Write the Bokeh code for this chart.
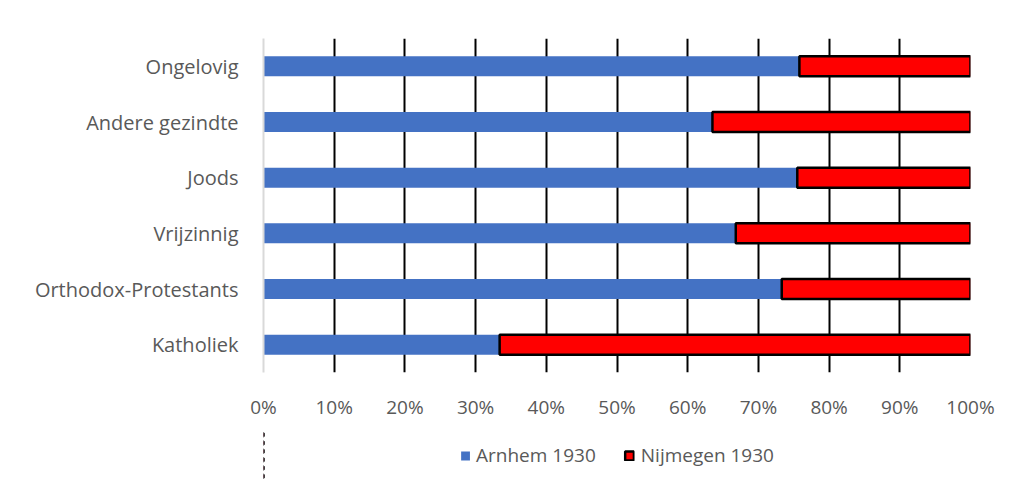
from bokeh.plotting import figure
from bokeh.layouts import column
from bokeh.models import FactorRange, FixedTicker, NumeralTickFormatter, Legend, LegendItem, Range1d
from bokeh.embed import file_html
from bokeh.resources import INLINE

categories = ["Katholiek", "Orthodox-Protestants", "Vrijzinnig", "Joods", "Andere gezindte", "Ongelovig"]
arnhem_1930 = [0.334, 0.733, 0.668, 0.755, 0.635, 0.758]
nijmegen_1930 = [0.666, 0.267, 0.332, 0.245, 0.365, 0.242]
x_ticks = [0.0, 0.1, 0.2, 0.3, 0.4, 0.5, 0.6, 0.7, 0.8, 0.9, 1.0]
series_names = ["Arnhem 1930", "Nijmegen 1930"]

FONT = "Open Sans"
TXT = "#595959"
BLUE = "#4472C4"
RED = "#FF0000"

p = figure(width=1006, height=430, y_range=FactorRange(factors=categories),
           x_range=Range1d(0, 1), output_backend="svg", toolbar_location=None,
           min_border_left=263, min_border_right=36, min_border_top=38, min_border_bottom=58)
p.outline_line_color = None
p.background_fill_color = "white"

nij_left = arnhem_1930
nij_right = [a + n for a, n in zip(arnhem_1930, nijmegen_1930)]

p.hbar(y=categories, left=0, right=arnhem_1930, height=0.36,
       fill_color=BLUE, line_color=None)
p.hbar(y=categories, left=nij_left, right=nij_right, height=0.36,
       fill_color=RED, line_color="black", line_width=2.5)

p.xaxis.ticker = FixedTicker(ticks=x_ticks)
p.xaxis.formatter = NumeralTickFormatter(format="0%")
p.xaxis.axis_line_color = None
p.xaxis.major_tick_line_color = None
p.xaxis.minor_tick_line_color = None
p.xaxis.major_label_standoff = 15
p.xaxis.major_label_text_font = FONT
p.xaxis.major_label_text_font_size = "19px"
p.xaxis.major_label_text_color = TXT

p.yaxis.axis_line_color = "#d9d9d9"
p.yaxis.axis_line_width = 2
p.yaxis.major_tick_line_color = None
p.yaxis.minor_tick_line_color = None
p.yaxis.major_label_standoff = 19
p.yaxis.major_label_text_font = FONT
p.yaxis.major_label_text_font_size = "20px"
p.yaxis.major_label_text_color = TXT

p.xgrid.ticker = FixedTicker(ticks=x_ticks)
p.xgrid.grid_line_color = "black"
p.xgrid.grid_line_width = 2
p.ygrid.grid_line_color = None

# legend strip below the chart (its bars lie outside its visible x range)
lg = figure(width=1006, height=50, x_range=Range1d(10, 11), y_range=FactorRange(factors=categories),
            output_backend="svg", toolbar_location=None, x_axis_type=None, y_axis_type=None,
            min_border_left=42, min_border_right=0, min_border_top=0, min_border_bottom=0)
lg.outline_line_color = None
lg.grid.visible = False
g1 = lg.hbar(y=categories, left=0, right=arnhem_1930, height=0.36,
             fill_color=BLUE, line_color=None)
g2 = lg.hbar(y=categories, left=nij_left, right=nij_right, height=0.36,
             fill_color=RED, line_color="black", line_width=2.5)
legend = Legend(items=[LegendItem(label=series_names[0], renderers=[g1]),
                       LegendItem(label=series_names[1], renderers=[g2])],
                orientation="horizontal", location="center",
                glyph_width=11, glyph_height=11, label_standoff=6, spacing=28,
                label_text_font=FONT, label_text_font_size="19px", label_text_color=TXT,
                border_line_color=None, background_fill_alpha=0, margin=0, padding=0)
lg.add_layout(legend, "center")

layout = column(p, lg, spacing=0)
open("out.html", "w").write(file_html(layout, INLINE))
